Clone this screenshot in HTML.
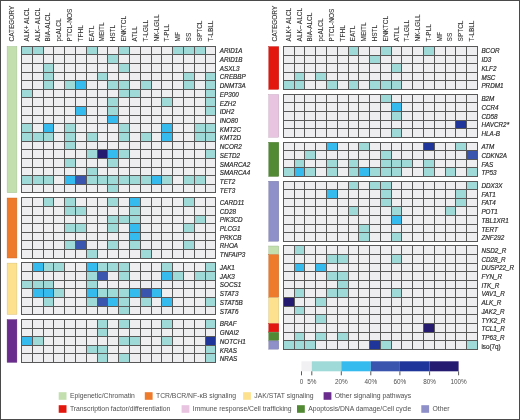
<!DOCTYPE html>
<html><head><meta charset="utf-8"><title>Mutation heatmap</title>
<style>
html,body{margin:0;padding:0;background:#fff;}
body{width:520px;height:420px;overflow:hidden;font-family:"Liberation Sans", sans-serif;}
svg{display:block;will-change:transform;}
text.g{stroke:#2a2a2a;stroke-width:0.18px;}
text.h{fill:#333;stroke:#333;stroke-width:0.1px;}
text.l{fill:#505050;}
</style></head><body>
<svg width="520" height="420" viewBox="0 0 520 420">
<g font-family='"Liberation Sans", sans-serif' font-size="6.8" fill="#2a2a2a">
<text transform="translate(14.40,41.4) rotate(-90) scale(0.95,1)" class="h" font-size="6.8">CATEGORY</text>
<text transform="translate(28.80,41.4) rotate(-90) scale(0.95,1)" class="h" font-size="6.8">ALK+ ALCL</text>
<text transform="translate(39.61,41.4) rotate(-90) scale(0.95,1)" class="h" font-size="6.8">ALK– ALCL</text>
<text transform="translate(50.42,41.4) rotate(-90) scale(0.95,1)" class="h" font-size="6.8">BIA-ALCL</text>
<text transform="translate(61.23,41.4) rotate(-90) scale(0.95,1)" class="h" font-size="6.8">pcALCL</text>
<text transform="translate(72.05,41.4) rotate(-90) scale(0.95,1)" class="h" font-size="6.8">PTCL-NOS</text>
<text transform="translate(82.86,41.4) rotate(-90) scale(0.95,1)" class="h" font-size="6.8">TFHL</text>
<text transform="translate(93.66,41.4) rotate(-90) scale(0.95,1)" class="h" font-size="6.8">EATL</text>
<text transform="translate(104.47,41.4) rotate(-90) scale(0.95,1)" class="h" font-size="6.8">MEITL</text>
<text transform="translate(115.28,41.4) rotate(-90) scale(0.95,1)" class="h" font-size="6.8">HSTL</text>
<text transform="translate(126.09,41.4) rotate(-90) scale(0.95,1)" class="h" font-size="6.8">ENKTCL</text>
<text transform="translate(136.91,41.4) rotate(-90) scale(0.95,1)" class="h" font-size="6.8">ATLL</text>
<text transform="translate(147.72,41.4) rotate(-90) scale(0.95,1)" class="h" font-size="6.8">T-LGLL</text>
<text transform="translate(158.53,41.4) rotate(-90) scale(0.95,1)" class="h" font-size="6.8">NK-LGLL</text>
<text transform="translate(169.34,41.4) rotate(-90) scale(0.95,1)" class="h" font-size="6.8">T-PLL</text>
<text transform="translate(180.15,41.4) rotate(-90) scale(0.95,1)" class="h" font-size="6.8">MF</text>
<text transform="translate(190.96,41.4) rotate(-90) scale(0.95,1)" class="h" font-size="6.8">SS</text>
<text transform="translate(201.77,41.4) rotate(-90) scale(0.95,1)" class="h" font-size="6.8">SPTCL</text>
<text transform="translate(212.58,41.4) rotate(-90) scale(0.95,1)" class="h" font-size="6.8">T-LBLL</text>
<text transform="translate(277.20,41.4) rotate(-90) scale(0.95,1)" class="h" font-size="6.8">CATEGORY</text>
<text transform="translate(290.79,41.4) rotate(-90) scale(0.95,1)" class="h" font-size="6.8">ALK+ ALCL</text>
<text transform="translate(301.57,41.4) rotate(-90) scale(0.95,1)" class="h" font-size="6.8">ALK– ALCL</text>
<text transform="translate(312.35,41.4) rotate(-90) scale(0.95,1)" class="h" font-size="6.8">BIA-ALCL</text>
<text transform="translate(323.13,41.4) rotate(-90) scale(0.95,1)" class="h" font-size="6.8">pcALCL</text>
<text transform="translate(333.91,41.4) rotate(-90) scale(0.95,1)" class="h" font-size="6.8">PTCL-NOS</text>
<text transform="translate(344.69,41.4) rotate(-90) scale(0.95,1)" class="h" font-size="6.8">TFHL</text>
<text transform="translate(355.47,41.4) rotate(-90) scale(0.95,1)" class="h" font-size="6.8">EATL</text>
<text transform="translate(366.25,41.4) rotate(-90) scale(0.95,1)" class="h" font-size="6.8">MEITL</text>
<text transform="translate(377.03,41.4) rotate(-90) scale(0.95,1)" class="h" font-size="6.8">HSTL</text>
<text transform="translate(387.81,41.4) rotate(-90) scale(0.95,1)" class="h" font-size="6.8">ENKTCL</text>
<text transform="translate(398.59,41.4) rotate(-90) scale(0.95,1)" class="h" font-size="6.8">ATLL</text>
<text transform="translate(409.37,41.4) rotate(-90) scale(0.95,1)" class="h" font-size="6.8">T-LGLL</text>
<text transform="translate(420.15,41.4) rotate(-90) scale(0.95,1)" class="h" font-size="6.8">NK-LGLL</text>
<text transform="translate(430.93,41.4) rotate(-90) scale(0.95,1)" class="h" font-size="6.8">T-PLL</text>
<text transform="translate(441.71,41.4) rotate(-90) scale(0.95,1)" class="h" font-size="6.8">MF</text>
<text transform="translate(452.49,41.4) rotate(-90) scale(0.95,1)" class="h" font-size="6.8">SS</text>
<text transform="translate(463.27,41.4) rotate(-90) scale(0.95,1)" class="h" font-size="6.8">SPTCL</text>
<text transform="translate(474.05,41.4) rotate(-90) scale(0.95,1)" class="h" font-size="6.8">T-LBLL</text>
<rect x="7.1" y="46.40" width="9.8" height="146.31" fill="#c2dfad" stroke="#9fb68d" stroke-width="0.4"/>
<rect x="7.1" y="198.00" width="9.8" height="60.01" fill="#ee7b2c" stroke="#c36424" stroke-width="0.4"/>
<rect x="7.1" y="263.10" width="9.8" height="51.38" fill="#fde18e" stroke="#cfb874" stroke-width="0.4"/>
<rect x="7.1" y="319.60" width="9.8" height="42.75" fill="#6a2c8d" stroke="#562473" stroke-width="0.4"/>
<rect x="21.40" y="46.20" width="194.58" height="146.71" fill="#eeeef0"/>
<rect x="21.40" y="46.20" width="10.81" height="8.63" fill="#9fd9d8"/>
<rect x="32.21" y="46.20" width="10.81" height="8.63" fill="#9fd9d8"/>
<rect x="86.26" y="46.20" width="10.81" height="8.63" fill="#9fd9d8"/>
<rect x="118.69" y="46.20" width="10.81" height="8.63" fill="#9fd9d8"/>
<rect x="172.74" y="46.20" width="10.81" height="8.63" fill="#9fd9d8"/>
<rect x="183.55" y="46.20" width="10.81" height="8.63" fill="#9fd9d8"/>
<rect x="194.36" y="46.20" width="10.81" height="8.63" fill="#9fd9d8"/>
<rect x="107.88" y="54.83" width="10.81" height="8.63" fill="#9fd9d8"/>
<rect x="43.02" y="63.46" width="10.81" height="8.63" fill="#9fd9d8"/>
<rect x="118.69" y="63.46" width="10.81" height="8.63" fill="#9fd9d8"/>
<rect x="43.02" y="72.09" width="10.81" height="8.63" fill="#9fd9d8"/>
<rect x="97.07" y="72.09" width="10.81" height="8.63" fill="#9fd9d8"/>
<rect x="183.55" y="72.09" width="10.81" height="8.63" fill="#9fd9d8"/>
<rect x="205.17" y="72.09" width="10.81" height="8.63" fill="#9fd9d8"/>
<rect x="43.02" y="80.72" width="10.81" height="8.63" fill="#9fd9d8"/>
<rect x="64.64" y="80.72" width="10.81" height="8.63" fill="#9fd9d8"/>
<rect x="75.45" y="80.72" width="10.81" height="8.63" fill="#35bbee"/>
<rect x="107.88" y="80.72" width="10.81" height="8.63" fill="#9fd9d8"/>
<rect x="118.69" y="80.72" width="10.81" height="8.63" fill="#9fd9d8"/>
<rect x="140.31" y="80.72" width="10.81" height="8.63" fill="#9fd9d8"/>
<rect x="183.55" y="80.72" width="10.81" height="8.63" fill="#9fd9d8"/>
<rect x="205.17" y="80.72" width="10.81" height="8.63" fill="#9fd9d8"/>
<rect x="21.40" y="89.35" width="10.81" height="8.63" fill="#9fd9d8"/>
<rect x="118.69" y="89.35" width="10.81" height="8.63" fill="#9fd9d8"/>
<rect x="129.50" y="89.35" width="10.81" height="8.63" fill="#9fd9d8"/>
<rect x="205.17" y="89.35" width="10.81" height="8.63" fill="#9fd9d8"/>
<rect x="107.88" y="97.98" width="10.81" height="8.63" fill="#9fd9d8"/>
<rect x="161.93" y="97.98" width="10.81" height="8.63" fill="#9fd9d8"/>
<rect x="205.17" y="97.98" width="10.81" height="8.63" fill="#9fd9d8"/>
<rect x="75.45" y="106.61" width="10.81" height="8.63" fill="#35bbee"/>
<rect x="107.88" y="106.61" width="10.81" height="8.63" fill="#9fd9d8"/>
<rect x="205.17" y="106.61" width="10.81" height="8.63" fill="#9fd9d8"/>
<rect x="107.88" y="115.24" width="10.81" height="8.63" fill="#35bbee"/>
<rect x="21.40" y="123.87" width="10.81" height="8.63" fill="#9fd9d8"/>
<rect x="43.02" y="123.87" width="10.81" height="8.63" fill="#35bbee"/>
<rect x="64.64" y="123.87" width="10.81" height="8.63" fill="#9fd9d8"/>
<rect x="118.69" y="123.87" width="10.81" height="8.63" fill="#9fd9d8"/>
<rect x="161.93" y="123.87" width="10.81" height="8.63" fill="#35bbee"/>
<rect x="194.36" y="123.87" width="10.81" height="8.63" fill="#9fd9d8"/>
<rect x="205.17" y="123.87" width="10.81" height="8.63" fill="#9fd9d8"/>
<rect x="21.40" y="132.50" width="10.81" height="8.63" fill="#9fd9d8"/>
<rect x="32.21" y="132.50" width="10.81" height="8.63" fill="#9fd9d8"/>
<rect x="43.02" y="132.50" width="10.81" height="8.63" fill="#9fd9d8"/>
<rect x="64.64" y="132.50" width="10.81" height="8.63" fill="#9fd9d8"/>
<rect x="86.26" y="132.50" width="10.81" height="8.63" fill="#9fd9d8"/>
<rect x="118.69" y="132.50" width="10.81" height="8.63" fill="#9fd9d8"/>
<rect x="140.31" y="132.50" width="10.81" height="8.63" fill="#9fd9d8"/>
<rect x="161.93" y="132.50" width="10.81" height="8.63" fill="#35bbee"/>
<rect x="194.36" y="132.50" width="10.81" height="8.63" fill="#9fd9d8"/>
<rect x="205.17" y="132.50" width="10.81" height="8.63" fill="#9fd9d8"/>
<rect x="64.64" y="141.13" width="10.81" height="8.63" fill="#9fd9d8"/>
<rect x="86.26" y="149.76" width="10.81" height="8.63" fill="#9fd9d8"/>
<rect x="97.07" y="149.76" width="10.81" height="8.63" fill="#241a70"/>
<rect x="107.88" y="149.76" width="10.81" height="8.63" fill="#35bbee"/>
<rect x="118.69" y="149.76" width="10.81" height="8.63" fill="#9fd9d8"/>
<rect x="205.17" y="149.76" width="10.81" height="8.63" fill="#9fd9d8"/>
<rect x="64.64" y="158.39" width="10.81" height="8.63" fill="#9fd9d8"/>
<rect x="107.88" y="158.39" width="10.81" height="8.63" fill="#9fd9d8"/>
<rect x="86.26" y="167.02" width="10.81" height="8.63" fill="#9fd9d8"/>
<rect x="21.40" y="175.65" width="10.81" height="8.63" fill="#9fd9d8"/>
<rect x="32.21" y="175.65" width="10.81" height="8.63" fill="#9fd9d8"/>
<rect x="43.02" y="175.65" width="10.81" height="8.63" fill="#9fd9d8"/>
<rect x="64.64" y="175.65" width="10.81" height="8.63" fill="#35bbee"/>
<rect x="75.45" y="175.65" width="10.81" height="8.63" fill="#3a55ae"/>
<rect x="86.26" y="175.65" width="10.81" height="8.63" fill="#9fd9d8"/>
<rect x="97.07" y="175.65" width="10.81" height="8.63" fill="#9fd9d8"/>
<rect x="107.88" y="175.65" width="10.81" height="8.63" fill="#9fd9d8"/>
<rect x="118.69" y="175.65" width="10.81" height="8.63" fill="#9fd9d8"/>
<rect x="129.50" y="175.65" width="10.81" height="8.63" fill="#9fd9d8"/>
<rect x="140.31" y="175.65" width="10.81" height="8.63" fill="#9fd9d8"/>
<rect x="151.12" y="175.65" width="10.81" height="8.63" fill="#35bbee"/>
<rect x="161.93" y="175.65" width="10.81" height="8.63" fill="#9fd9d8"/>
<rect x="183.55" y="175.65" width="10.81" height="8.63" fill="#9fd9d8"/>
<rect x="194.36" y="175.65" width="10.81" height="8.63" fill="#9fd9d8"/>
<rect x="107.88" y="184.28" width="10.81" height="8.63" fill="#9fd9d8"/>
<path d="M21.00 46.50H216.00M21.00 54.50H216.00M21.00 63.50H216.00M21.00 72.50H216.00M21.00 80.50H216.00M21.00 89.50H216.00M21.00 97.50H216.00M21.00 106.50H216.00M21.00 115.50H216.00M21.00 123.50H216.00M21.00 132.50H216.00M21.00 141.50H216.00M21.00 149.50H216.00M21.00 158.50H216.00M21.00 167.50H216.00M21.00 175.50H216.00M21.00 184.50H216.00M21.00 192.50H216.00M21.50 46.50V192.50M32.50 46.50V192.50M43.50 46.50V192.50M53.50 46.50V192.50M64.50 46.50V192.50M75.50 46.50V192.50M86.50 46.50V192.50M97.50 46.50V192.50M107.50 46.50V192.50M118.50 46.50V192.50M129.50 46.50V192.50M140.50 46.50V192.50M151.50 46.50V192.50M161.50 46.50V192.50M172.50 46.50V192.50M183.50 46.50V192.50M194.50 46.50V192.50M205.50 46.50V192.50M215.50 46.50V192.50" stroke="#585858" stroke-width="1" fill="none"/>
<text class="g" transform="translate(219.8,53.21) scale(0.93,1)" style="font-style:italic">ARID1A</text>
<text class="g" transform="translate(219.8,61.93) scale(0.93,1)" style="font-style:italic">ARID1B</text>
<text class="g" transform="translate(219.8,70.66) scale(0.93,1)" style="font-style:italic">ASXL3</text>
<text class="g" transform="translate(219.8,79.38) scale(0.93,1)" style="font-style:italic">CREBBP</text>
<text class="g" transform="translate(219.8,88.10) scale(0.93,1)" style="font-style:italic">DNMT3A</text>
<text class="g" transform="translate(219.8,96.82) scale(0.93,1)" style="font-style:italic">EP300</text>
<text class="g" transform="translate(219.8,105.54) scale(0.93,1)" style="font-style:italic">EZH2</text>
<text class="g" transform="translate(219.8,114.26) scale(0.93,1)" style="font-style:italic">IDH2</text>
<text class="g" transform="translate(219.8,122.98) scale(0.93,1)" style="font-style:italic">INO80</text>
<text class="g" transform="translate(219.8,131.70) scale(0.93,1)" style="font-style:italic">KMT2C</text>
<text class="g" transform="translate(219.8,140.42) scale(0.93,1)" style="font-style:italic">KMT2D</text>
<text class="g" transform="translate(219.8,149.14) scale(0.93,1)" style="font-style:italic">NCOR2</text>
<text class="g" transform="translate(219.8,157.86) scale(0.93,1)" style="font-style:italic">SETD2</text>
<text class="g" transform="translate(219.8,166.58) scale(0.93,1)" style="font-style:italic">SMARCA2</text>
<text class="g" transform="translate(219.8,175.30) scale(0.93,1)" style="font-style:italic">SMARCA4</text>
<text class="g" transform="translate(219.8,184.02) scale(0.93,1)" style="font-style:italic">TET2</text>
<text class="g" transform="translate(219.8,192.74) scale(0.93,1)" style="font-style:italic">TET3</text>
<rect x="21.40" y="197.80" width="194.58" height="60.41" fill="#eeeef0"/>
<rect x="43.02" y="197.80" width="10.81" height="8.63" fill="#9fd9d8"/>
<rect x="64.64" y="197.80" width="10.81" height="8.63" fill="#9fd9d8"/>
<rect x="107.88" y="197.80" width="10.81" height="8.63" fill="#9fd9d8"/>
<rect x="129.50" y="197.80" width="10.81" height="8.63" fill="#35bbee"/>
<rect x="183.55" y="197.80" width="10.81" height="8.63" fill="#9fd9d8"/>
<rect x="64.64" y="206.43" width="10.81" height="8.63" fill="#9fd9d8"/>
<rect x="75.45" y="206.43" width="10.81" height="8.63" fill="#9fd9d8"/>
<rect x="129.50" y="206.43" width="10.81" height="8.63" fill="#9fd9d8"/>
<rect x="107.88" y="215.06" width="10.81" height="8.63" fill="#9fd9d8"/>
<rect x="118.69" y="215.06" width="10.81" height="8.63" fill="#9fd9d8"/>
<rect x="129.50" y="215.06" width="10.81" height="8.63" fill="#9fd9d8"/>
<rect x="194.36" y="215.06" width="10.81" height="8.63" fill="#9fd9d8"/>
<rect x="64.64" y="223.69" width="10.81" height="8.63" fill="#9fd9d8"/>
<rect x="75.45" y="223.69" width="10.81" height="8.63" fill="#9fd9d8"/>
<rect x="107.88" y="223.69" width="10.81" height="8.63" fill="#9fd9d8"/>
<rect x="129.50" y="223.69" width="10.81" height="8.63" fill="#35bbee"/>
<rect x="183.55" y="223.69" width="10.81" height="8.63" fill="#9fd9d8"/>
<rect x="129.50" y="232.32" width="10.81" height="8.63" fill="#35bbee"/>
<rect x="64.64" y="240.95" width="10.81" height="8.63" fill="#9fd9d8"/>
<rect x="75.45" y="240.95" width="10.81" height="8.63" fill="#3a55ae"/>
<rect x="107.88" y="240.95" width="10.81" height="8.63" fill="#9fd9d8"/>
<rect x="129.50" y="240.95" width="10.81" height="8.63" fill="#9fd9d8"/>
<rect x="183.55" y="240.95" width="10.81" height="8.63" fill="#9fd9d8"/>
<rect x="86.26" y="249.58" width="10.81" height="8.63" fill="#9fd9d8"/>
<rect x="140.31" y="249.58" width="10.81" height="8.63" fill="#9fd9d8"/>
<path d="M21.00 197.50H216.00M21.00 206.50H216.00M21.00 215.50H216.00M21.00 223.50H216.00M21.00 232.50H216.00M21.00 240.50H216.00M21.00 249.50H216.00M21.00 258.50H216.00M21.50 197.50V258.50M32.50 197.50V258.50M43.50 197.50V258.50M53.50 197.50V258.50M64.50 197.50V258.50M75.50 197.50V258.50M86.50 197.50V258.50M97.50 197.50V258.50M107.50 197.50V258.50M118.50 197.50V258.50M129.50 197.50V258.50M140.50 197.50V258.50M151.50 197.50V258.50M161.50 197.50V258.50M172.50 197.50V258.50M183.50 197.50V258.50M194.50 197.50V258.50M205.50 197.50V258.50M215.50 197.50V258.50" stroke="#585858" stroke-width="1" fill="none"/>
<text class="g" transform="translate(219.8,204.82) scale(0.93,1)" style="font-style:italic">CARD11</text>
<text class="g" transform="translate(219.8,213.54) scale(0.93,1)" style="font-style:italic">CD28</text>
<text class="g" transform="translate(219.8,222.26) scale(0.93,1)" style="font-style:italic">PIK3CD</text>
<text class="g" transform="translate(219.8,230.98) scale(0.93,1)" style="font-style:italic">PLCG1</text>
<text class="g" transform="translate(219.8,239.70) scale(0.93,1)" style="font-style:italic">PRKCB</text>
<text class="g" transform="translate(219.8,248.42) scale(0.93,1)" style="font-style:italic">RHOA</text>
<text class="g" transform="translate(219.8,257.13) scale(0.93,1)" style="font-style:italic">TNFAIP3</text>
<rect x="21.40" y="262.90" width="194.58" height="51.78" fill="#eeeef0"/>
<rect x="32.21" y="262.90" width="10.81" height="8.63" fill="#35bbee"/>
<rect x="43.02" y="262.90" width="10.81" height="8.63" fill="#9fd9d8"/>
<rect x="53.83" y="262.90" width="10.81" height="8.63" fill="#9fd9d8"/>
<rect x="86.26" y="262.90" width="10.81" height="8.63" fill="#35bbee"/>
<rect x="97.07" y="262.90" width="10.81" height="8.63" fill="#9fd9d8"/>
<rect x="107.88" y="262.90" width="10.81" height="8.63" fill="#9fd9d8"/>
<rect x="118.69" y="262.90" width="10.81" height="8.63" fill="#9fd9d8"/>
<rect x="161.93" y="262.90" width="10.81" height="8.63" fill="#9fd9d8"/>
<rect x="205.17" y="262.90" width="10.81" height="8.63" fill="#9fd9d8"/>
<rect x="86.26" y="271.53" width="10.81" height="8.63" fill="#9fd9d8"/>
<rect x="97.07" y="271.53" width="10.81" height="8.63" fill="#3a55ae"/>
<rect x="118.69" y="271.53" width="10.81" height="8.63" fill="#9fd9d8"/>
<rect x="161.93" y="271.53" width="10.81" height="8.63" fill="#35bbee"/>
<rect x="172.74" y="271.53" width="10.81" height="8.63" fill="#9fd9d8"/>
<rect x="194.36" y="271.53" width="10.81" height="8.63" fill="#9fd9d8"/>
<rect x="205.17" y="271.53" width="10.81" height="8.63" fill="#9fd9d8"/>
<rect x="21.40" y="280.16" width="10.81" height="8.63" fill="#9fd9d8"/>
<rect x="32.21" y="280.16" width="10.81" height="8.63" fill="#9fd9d8"/>
<rect x="43.02" y="280.16" width="10.81" height="8.63" fill="#9fd9d8"/>
<rect x="86.26" y="280.16" width="10.81" height="8.63" fill="#9fd9d8"/>
<rect x="32.21" y="288.79" width="10.81" height="8.63" fill="#35bbee"/>
<rect x="43.02" y="288.79" width="10.81" height="8.63" fill="#35bbee"/>
<rect x="53.83" y="288.79" width="10.81" height="8.63" fill="#9fd9d8"/>
<rect x="86.26" y="288.79" width="10.81" height="8.63" fill="#35bbee"/>
<rect x="97.07" y="288.79" width="10.81" height="8.63" fill="#9fd9d8"/>
<rect x="107.88" y="288.79" width="10.81" height="8.63" fill="#9fd9d8"/>
<rect x="118.69" y="288.79" width="10.81" height="8.63" fill="#9fd9d8"/>
<rect x="129.50" y="288.79" width="10.81" height="8.63" fill="#35bbee"/>
<rect x="140.31" y="288.79" width="10.81" height="8.63" fill="#3a55ae"/>
<rect x="151.12" y="288.79" width="10.81" height="8.63" fill="#35bbee"/>
<rect x="43.02" y="297.42" width="10.81" height="8.63" fill="#9fd9d8"/>
<rect x="86.26" y="297.42" width="10.81" height="8.63" fill="#9fd9d8"/>
<rect x="97.07" y="297.42" width="10.81" height="8.63" fill="#3a55ae"/>
<rect x="107.88" y="297.42" width="10.81" height="8.63" fill="#35bbee"/>
<rect x="118.69" y="297.42" width="10.81" height="8.63" fill="#9fd9d8"/>
<rect x="140.31" y="297.42" width="10.81" height="8.63" fill="#9fd9d8"/>
<rect x="161.93" y="297.42" width="10.81" height="8.63" fill="#35bbee"/>
<rect x="205.17" y="297.42" width="10.81" height="8.63" fill="#9fd9d8"/>
<rect x="118.69" y="306.05" width="10.81" height="8.63" fill="#9fd9d8"/>
<path d="M21.00 262.50H216.00M21.00 271.50H216.00M21.00 280.50H216.00M21.00 288.50H216.00M21.00 297.50H216.00M21.00 306.50H216.00M21.00 314.50H216.00M21.50 262.50V314.50M32.50 262.50V314.50M43.50 262.50V314.50M53.50 262.50V314.50M64.50 262.50V314.50M75.50 262.50V314.50M86.50 262.50V314.50M97.50 262.50V314.50M107.50 262.50V314.50M118.50 262.50V314.50M129.50 262.50V314.50M140.50 262.50V314.50M151.50 262.50V314.50M161.50 262.50V314.50M172.50 262.50V314.50M183.50 262.50V314.50M194.50 262.50V314.50M205.50 262.50V314.50M215.50 262.50V314.50" stroke="#585858" stroke-width="1" fill="none"/>
<text class="g" transform="translate(219.8,269.91) scale(0.93,1)" style="font-style:italic">JAK1</text>
<text class="g" transform="translate(219.8,278.63) scale(0.93,1)" style="font-style:italic">JAK3</text>
<text class="g" transform="translate(219.8,287.35) scale(0.93,1)" style="font-style:italic">SOCS1</text>
<text class="g" transform="translate(219.8,296.07) scale(0.93,1)" style="font-style:italic">STAT3</text>
<text class="g" transform="translate(219.8,304.79) scale(0.93,1)" style="font-style:italic">STAT5B</text>
<text class="g" transform="translate(219.8,313.51) scale(0.93,1)" style="font-style:italic">STAT6</text>
<rect x="21.40" y="319.40" width="194.58" height="43.15" fill="#eeeef0"/>
<rect x="97.07" y="319.40" width="10.81" height="8.63" fill="#9fd9d8"/>
<rect x="118.69" y="319.40" width="10.81" height="8.63" fill="#9fd9d8"/>
<rect x="161.93" y="319.40" width="10.81" height="8.63" fill="#9fd9d8"/>
<rect x="205.17" y="319.40" width="10.81" height="8.63" fill="#9fd9d8"/>
<rect x="97.07" y="328.03" width="10.81" height="8.63" fill="#9fd9d8"/>
<rect x="21.40" y="336.66" width="10.81" height="8.63" fill="#35bbee"/>
<rect x="32.21" y="336.66" width="10.81" height="8.63" fill="#9fd9d8"/>
<rect x="118.69" y="336.66" width="10.81" height="8.63" fill="#9fd9d8"/>
<rect x="129.50" y="336.66" width="10.81" height="8.63" fill="#9fd9d8"/>
<rect x="161.93" y="336.66" width="10.81" height="8.63" fill="#9fd9d8"/>
<rect x="205.17" y="336.66" width="10.81" height="8.63" fill="#1f359a"/>
<rect x="86.26" y="345.29" width="10.81" height="8.63" fill="#9fd9d8"/>
<rect x="97.07" y="345.29" width="10.81" height="8.63" fill="#9fd9d8"/>
<rect x="205.17" y="345.29" width="10.81" height="8.63" fill="#9fd9d8"/>
<rect x="97.07" y="353.92" width="10.81" height="8.63" fill="#9fd9d8"/>
<rect x="118.69" y="353.92" width="10.81" height="8.63" fill="#9fd9d8"/>
<rect x="205.17" y="353.92" width="10.81" height="8.63" fill="#9fd9d8"/>
<path d="M21.00 319.50H216.00M21.00 328.50H216.00M21.00 336.50H216.00M21.00 345.50H216.00M21.00 353.50H216.00M21.00 362.50H216.00M21.50 319.50V362.50M32.50 319.50V362.50M43.50 319.50V362.50M53.50 319.50V362.50M64.50 319.50V362.50M75.50 319.50V362.50M86.50 319.50V362.50M97.50 319.50V362.50M107.50 319.50V362.50M118.50 319.50V362.50M129.50 319.50V362.50M140.50 319.50V362.50M151.50 319.50V362.50M161.50 319.50V362.50M172.50 319.50V362.50M183.50 319.50V362.50M194.50 319.50V362.50M205.50 319.50V362.50M215.50 319.50V362.50" stroke="#585858" stroke-width="1" fill="none"/>
<text class="g" transform="translate(219.8,326.41) scale(0.93,1)" style="font-style:italic">BRAF</text>
<text class="g" transform="translate(219.8,335.13) scale(0.93,1)" style="font-style:italic">GNAI2</text>
<text class="g" transform="translate(219.8,343.85) scale(0.93,1)" style="font-style:italic">NOTCH1</text>
<text class="g" transform="translate(219.8,352.57) scale(0.93,1)" style="font-style:italic">KRAS</text>
<text class="g" transform="translate(219.8,361.29) scale(0.93,1)" style="font-style:italic">NRAS</text>
<rect x="268.8" y="46.60" width="10.0" height="42.75" fill="#e4170f" stroke="#ba120c" stroke-width="0.4"/>
<rect x="268.8" y="94.50" width="10.0" height="42.75" fill="#e8c4e1" stroke="#bea0b8" stroke-width="0.4"/>
<rect x="268.8" y="142.30" width="10.0" height="34.12" fill="#528a33" stroke="#437129" stroke-width="0.4"/>
<rect x="268.8" y="181.20" width="10.0" height="60.01" fill="#8f8fc9" stroke="#7575a4" stroke-width="0.4"/>
<rect x="268.8" y="246.00" width="10.0" height="8.23" fill="#c2dfad" stroke="#9fb68d" stroke-width="0.4"/>
<rect x="268.8" y="254.63" width="10.0" height="42.75" fill="#ee7b2c" stroke="#c36424" stroke-width="0.4"/>
<rect x="268.8" y="297.78" width="10.0" height="25.49" fill="#fde18e" stroke="#cfb874" stroke-width="0.4"/>
<rect x="268.8" y="323.67" width="10.0" height="8.23" fill="#e4170f" stroke="#ba120c" stroke-width="0.4"/>
<rect x="268.8" y="332.30" width="10.0" height="8.23" fill="#528a33" stroke="#437129" stroke-width="0.4"/>
<rect x="268.8" y="340.93" width="10.0" height="8.23" fill="#8f8fc9" stroke="#7575a4" stroke-width="0.4"/>
<rect x="283.40" y="46.40" width="194.04" height="43.15" fill="#eeeef0"/>
<rect x="348.08" y="46.40" width="10.78" height="8.63" fill="#9fd9d8"/>
<rect x="380.42" y="46.40" width="10.78" height="8.63" fill="#9fd9d8"/>
<rect x="423.54" y="46.40" width="10.78" height="8.63" fill="#9fd9d8"/>
<rect x="369.64" y="55.03" width="10.78" height="8.63" fill="#9fd9d8"/>
<rect x="391.20" y="63.66" width="10.78" height="8.63" fill="#9fd9d8"/>
<rect x="294.18" y="72.29" width="10.78" height="8.63" fill="#9fd9d8"/>
<rect x="315.74" y="72.29" width="10.78" height="8.63" fill="#9fd9d8"/>
<rect x="283.40" y="80.92" width="10.78" height="8.63" fill="#9fd9d8"/>
<rect x="294.18" y="80.92" width="10.78" height="8.63" fill="#9fd9d8"/>
<rect x="326.52" y="80.92" width="10.78" height="8.63" fill="#9fd9d8"/>
<rect x="348.08" y="80.92" width="10.78" height="8.63" fill="#9fd9d8"/>
<rect x="369.64" y="80.92" width="10.78" height="8.63" fill="#9fd9d8"/>
<rect x="380.42" y="80.92" width="10.78" height="8.63" fill="#9fd9d8"/>
<rect x="391.20" y="80.92" width="10.78" height="8.63" fill="#9fd9d8"/>
<path d="M283.00 46.50H478.00M283.00 55.50H478.00M283.00 63.50H478.00M283.00 72.50H478.00M283.00 80.50H478.00M283.00 89.50H478.00M283.50 46.50V89.50M294.50 46.50V89.50M304.50 46.50V89.50M315.50 46.50V89.50M326.50 46.50V89.50M337.50 46.50V89.50M348.50 46.50V89.50M358.50 46.50V89.50M369.50 46.50V89.50M380.50 46.50V89.50M391.50 46.50V89.50M401.50 46.50V89.50M412.50 46.50V89.50M423.50 46.50V89.50M434.50 46.50V89.50M445.50 46.50V89.50M455.50 46.50V89.50M466.50 46.50V89.50M477.50 46.50V89.50" stroke="#585858" stroke-width="1" fill="none"/>
<text class="g" transform="translate(481.4,53.41) scale(0.93,1)" style="font-style:italic">BCOR</text>
<text class="g" transform="translate(481.4,62.13) scale(0.93,1)" style="font-style:italic">ID3</text>
<text class="g" transform="translate(481.4,70.86) scale(0.93,1)" style="font-style:italic">KLF2</text>
<text class="g" transform="translate(481.4,79.58) scale(0.93,1)" style="font-style:italic">MSC</text>
<text class="g" transform="translate(481.4,88.30) scale(0.93,1)" style="font-style:italic">PRDM1</text>
<rect x="283.40" y="94.30" width="194.04" height="43.15" fill="#eeeef0"/>
<rect x="380.42" y="94.30" width="10.78" height="8.63" fill="#9fd9d8"/>
<rect x="391.20" y="102.93" width="10.78" height="8.63" fill="#35bbee"/>
<rect x="391.20" y="111.56" width="10.78" height="8.63" fill="#9fd9d8"/>
<rect x="455.88" y="120.19" width="10.78" height="8.63" fill="#1f359a"/>
<rect x="391.20" y="128.82" width="10.78" height="8.63" fill="#9fd9d8"/>
<path d="M283.00 94.50H478.00M283.00 102.50H478.00M283.00 111.50H478.00M283.00 120.50H478.00M283.00 128.50H478.00M283.00 137.50H478.00M283.50 94.50V137.50M294.50 94.50V137.50M304.50 94.50V137.50M315.50 94.50V137.50M326.50 94.50V137.50M337.50 94.50V137.50M348.50 94.50V137.50M358.50 94.50V137.50M369.50 94.50V137.50M380.50 94.50V137.50M391.50 94.50V137.50M401.50 94.50V137.50M412.50 94.50V137.50M423.50 94.50V137.50M434.50 94.50V137.50M445.50 94.50V137.50M455.50 94.50V137.50M466.50 94.50V137.50M477.50 94.50V137.50" stroke="#585858" stroke-width="1" fill="none"/>
<text class="g" transform="translate(481.4,101.31) scale(0.93,1)" style="font-style:italic">B2M</text>
<text class="g" transform="translate(481.4,110.03) scale(0.93,1)" style="font-style:italic">CCR4</text>
<text class="g" transform="translate(481.4,118.75) scale(0.93,1)" style="font-style:italic">CD58</text>
<text class="g" transform="translate(481.4,127.48) scale(0.93,1)" style="font-style:italic">HAVCR2*</text>
<text class="g" transform="translate(481.4,136.20) scale(0.93,1)" style="font-style:italic">HLA-B</text>
<rect x="283.40" y="142.10" width="194.04" height="34.52" fill="#eeeef0"/>
<rect x="326.52" y="142.10" width="10.78" height="8.63" fill="#35bbee"/>
<rect x="358.86" y="142.10" width="10.78" height="8.63" fill="#9fd9d8"/>
<rect x="423.54" y="142.10" width="10.78" height="8.63" fill="#1f359a"/>
<rect x="455.88" y="142.10" width="10.78" height="8.63" fill="#9fd9d8"/>
<rect x="304.96" y="150.73" width="10.78" height="8.63" fill="#9fd9d8"/>
<rect x="380.42" y="150.73" width="10.78" height="8.63" fill="#9fd9d8"/>
<rect x="466.66" y="150.73" width="10.78" height="8.63" fill="#3a55ae"/>
<rect x="294.18" y="159.36" width="10.78" height="8.63" fill="#9fd9d8"/>
<rect x="326.52" y="159.36" width="10.78" height="8.63" fill="#9fd9d8"/>
<rect x="348.08" y="159.36" width="10.78" height="8.63" fill="#9fd9d8"/>
<rect x="380.42" y="159.36" width="10.78" height="8.63" fill="#9fd9d8"/>
<rect x="391.20" y="159.36" width="10.78" height="8.63" fill="#9fd9d8"/>
<rect x="401.98" y="159.36" width="10.78" height="8.63" fill="#9fd9d8"/>
<rect x="423.54" y="159.36" width="10.78" height="8.63" fill="#9fd9d8"/>
<rect x="283.40" y="167.99" width="10.78" height="8.63" fill="#9fd9d8"/>
<rect x="294.18" y="167.99" width="10.78" height="8.63" fill="#35bbee"/>
<rect x="304.96" y="167.99" width="10.78" height="8.63" fill="#9fd9d8"/>
<rect x="326.52" y="167.99" width="10.78" height="8.63" fill="#9fd9d8"/>
<rect x="348.08" y="167.99" width="10.78" height="8.63" fill="#9fd9d8"/>
<rect x="358.86" y="167.99" width="10.78" height="8.63" fill="#35bbee"/>
<rect x="369.64" y="167.99" width="10.78" height="8.63" fill="#9fd9d8"/>
<rect x="380.42" y="167.99" width="10.78" height="8.63" fill="#9fd9d8"/>
<rect x="391.20" y="167.99" width="10.78" height="8.63" fill="#9fd9d8"/>
<rect x="423.54" y="167.99" width="10.78" height="8.63" fill="#9fd9d8"/>
<rect x="445.10" y="167.99" width="10.78" height="8.63" fill="#9fd9d8"/>
<rect x="466.66" y="167.99" width="10.78" height="8.63" fill="#9fd9d8"/>
<path d="M283.00 142.50H478.00M283.00 150.50H478.00M283.00 159.50H478.00M283.00 167.50H478.00M283.00 176.50H478.00M283.50 142.50V176.50M294.50 142.50V176.50M304.50 142.50V176.50M315.50 142.50V176.50M326.50 142.50V176.50M337.50 142.50V176.50M348.50 142.50V176.50M358.50 142.50V176.50M369.50 142.50V176.50M380.50 142.50V176.50M391.50 142.50V176.50M401.50 142.50V176.50M412.50 142.50V176.50M423.50 142.50V176.50M434.50 142.50V176.50M445.50 142.50V176.50M455.50 142.50V176.50M466.50 142.50V176.50M477.50 142.50V176.50" stroke="#585858" stroke-width="1" fill="none"/>
<text class="g" transform="translate(481.4,149.12) scale(0.93,1)" style="font-style:italic">ATM</text>
<text class="g" transform="translate(481.4,157.84) scale(0.93,1)" style="font-style:italic">CDKN2A</text>
<text class="g" transform="translate(481.4,166.56) scale(0.93,1)" style="font-style:italic">FAS</text>
<text class="g" transform="translate(481.4,175.28) scale(0.93,1)" style="font-style:italic">TP53</text>
<rect x="283.40" y="181.00" width="194.04" height="60.41" fill="#eeeef0"/>
<rect x="348.08" y="181.00" width="10.78" height="8.63" fill="#9fd9d8"/>
<rect x="369.64" y="181.00" width="10.78" height="8.63" fill="#9fd9d8"/>
<rect x="380.42" y="181.00" width="10.78" height="8.63" fill="#9fd9d8"/>
<rect x="466.66" y="181.00" width="10.78" height="8.63" fill="#9fd9d8"/>
<rect x="326.52" y="189.63" width="10.78" height="8.63" fill="#35bbee"/>
<rect x="380.42" y="189.63" width="10.78" height="8.63" fill="#9fd9d8"/>
<rect x="455.88" y="189.63" width="10.78" height="8.63" fill="#9fd9d8"/>
<rect x="380.42" y="198.26" width="10.78" height="8.63" fill="#9fd9d8"/>
<rect x="455.88" y="198.26" width="10.78" height="8.63" fill="#9fd9d8"/>
<rect x="348.08" y="206.89" width="10.78" height="8.63" fill="#9fd9d8"/>
<rect x="391.20" y="206.89" width="10.78" height="8.63" fill="#9fd9d8"/>
<rect x="445.10" y="206.89" width="10.78" height="8.63" fill="#9fd9d8"/>
<rect x="391.20" y="215.52" width="10.78" height="8.63" fill="#35bbee"/>
<rect x="358.86" y="224.15" width="10.78" height="8.63" fill="#9fd9d8"/>
<rect x="358.86" y="232.78" width="10.78" height="8.63" fill="#9fd9d8"/>
<rect x="391.20" y="232.78" width="10.78" height="8.63" fill="#9fd9d8"/>
<path d="M283.00 181.50H478.00M283.00 189.50H478.00M283.00 198.50H478.00M283.00 206.50H478.00M283.00 215.50H478.00M283.00 224.50H478.00M283.00 232.50H478.00M283.00 241.50H478.00M283.50 181.50V241.50M294.50 181.50V241.50M304.50 181.50V241.50M315.50 181.50V241.50M326.50 181.50V241.50M337.50 181.50V241.50M348.50 181.50V241.50M358.50 181.50V241.50M369.50 181.50V241.50M380.50 181.50V241.50M391.50 181.50V241.50M401.50 181.50V241.50M412.50 181.50V241.50M423.50 181.50V241.50M434.50 181.50V241.50M445.50 181.50V241.50M455.50 181.50V241.50M466.50 181.50V241.50M477.50 181.50V241.50" stroke="#585858" stroke-width="1" fill="none"/>
<text class="g" transform="translate(481.4,188.02) scale(0.93,1)" style="font-style:italic">DDX3X</text>
<text class="g" transform="translate(481.4,196.74) scale(0.93,1)" style="font-style:italic">FAT1</text>
<text class="g" transform="translate(481.4,205.46) scale(0.93,1)" style="font-style:italic">FAT4</text>
<text class="g" transform="translate(481.4,214.18) scale(0.93,1)" style="font-style:italic">POT1</text>
<text class="g" transform="translate(481.4,222.90) scale(0.93,1)" style="font-style:italic">TBL1XR1</text>
<text class="g" transform="translate(481.4,231.62) scale(0.93,1)" style="font-style:italic">TERT</text>
<text class="g" transform="translate(481.4,240.34) scale(0.93,1)" style="font-style:italic">ZNF292</text>
<rect x="283.40" y="245.80" width="194.04" height="103.56" fill="#eeeef0"/>
<rect x="294.18" y="245.80" width="10.78" height="8.63" fill="#9fd9d8"/>
<rect x="326.52" y="254.43" width="10.78" height="8.63" fill="#9fd9d8"/>
<rect x="337.30" y="254.43" width="10.78" height="8.63" fill="#9fd9d8"/>
<rect x="391.20" y="254.43" width="10.78" height="8.63" fill="#9fd9d8"/>
<rect x="294.18" y="263.06" width="10.78" height="8.63" fill="#35bbee"/>
<rect x="315.74" y="263.06" width="10.78" height="8.63" fill="#35bbee"/>
<rect x="326.52" y="271.69" width="10.78" height="8.63" fill="#9fd9d8"/>
<rect x="337.30" y="271.69" width="10.78" height="8.63" fill="#9fd9d8"/>
<rect x="337.30" y="280.32" width="10.78" height="8.63" fill="#9fd9d8"/>
<rect x="294.18" y="288.95" width="10.78" height="8.63" fill="#9fd9d8"/>
<rect x="326.52" y="288.95" width="10.78" height="8.63" fill="#9fd9d8"/>
<rect x="337.30" y="288.95" width="10.78" height="8.63" fill="#9fd9d8"/>
<rect x="391.20" y="288.95" width="10.78" height="8.63" fill="#9fd9d8"/>
<rect x="283.40" y="297.58" width="10.78" height="8.63" fill="#241a70"/>
<rect x="315.74" y="297.58" width="10.78" height="8.63" fill="#9fd9d8"/>
<rect x="294.18" y="306.21" width="10.78" height="8.63" fill="#9fd9d8"/>
<rect x="315.74" y="314.84" width="10.78" height="8.63" fill="#9fd9d8"/>
<rect x="423.54" y="323.47" width="10.78" height="8.63" fill="#241a70"/>
<rect x="294.18" y="332.10" width="10.78" height="8.63" fill="#9fd9d8"/>
<rect x="315.74" y="332.10" width="10.78" height="8.63" fill="#9fd9d8"/>
<rect x="337.30" y="332.10" width="10.78" height="8.63" fill="#9fd9d8"/>
<rect x="283.40" y="340.73" width="10.78" height="8.63" fill="#9fd9d8"/>
<rect x="294.18" y="340.73" width="10.78" height="8.63" fill="#9fd9d8"/>
<rect x="304.96" y="340.73" width="10.78" height="8.63" fill="#9fd9d8"/>
<rect x="369.64" y="340.73" width="10.78" height="8.63" fill="#1f359a"/>
<rect x="380.42" y="340.73" width="10.78" height="8.63" fill="#9fd9d8"/>
<rect x="466.66" y="340.73" width="10.78" height="8.63" fill="#9fd9d8"/>
<path d="M283.00 245.50H478.00M283.00 254.50H478.00M283.00 263.50H478.00M283.00 271.50H478.00M283.00 280.50H478.00M283.00 288.50H478.00M283.00 297.50H478.00M283.00 306.50H478.00M283.00 314.50H478.00M283.00 323.50H478.00M283.00 332.50H478.00M283.00 340.50H478.00M283.00 349.50H478.00M283.50 245.50V349.50M294.50 245.50V349.50M304.50 245.50V349.50M315.50 245.50V349.50M326.50 245.50V349.50M337.50 245.50V349.50M348.50 245.50V349.50M358.50 245.50V349.50M369.50 245.50V349.50M380.50 245.50V349.50M391.50 245.50V349.50M401.50 245.50V349.50M412.50 245.50V349.50M423.50 245.50V349.50M434.50 245.50V349.50M445.50 245.50V349.50M455.50 245.50V349.50M466.50 245.50V349.50M477.50 245.50V349.50" stroke="#585858" stroke-width="1" fill="none"/>
<text class="g" transform="translate(481.4,252.82) scale(0.93,1)" style="font-style:italic">NSD2_R</text>
<text class="g" transform="translate(481.4,261.54) scale(0.93,1)" style="font-style:italic">CD28_R</text>
<text class="g" transform="translate(481.4,270.25) scale(0.93,1)" style="font-style:italic">DUSP22_R</text>
<text class="g" transform="translate(481.4,278.98) scale(0.93,1)" style="font-style:italic">FYN_R</text>
<text class="g" transform="translate(481.4,287.69) scale(0.93,1)" style="font-style:italic">ITK_R</text>
<text class="g" transform="translate(481.4,296.42) scale(0.93,1)" style="font-style:italic">VAV1_R</text>
<text class="g" transform="translate(481.4,305.13) scale(0.93,1)" style="font-style:italic">ALK_R</text>
<text class="g" transform="translate(481.4,313.86) scale(0.93,1)" style="font-style:italic">JAK2_R</text>
<text class="g" transform="translate(481.4,322.57) scale(0.93,1)" style="font-style:italic">TYK2_R</text>
<text class="g" transform="translate(481.4,331.30) scale(0.93,1)" style="font-style:italic">TCL1_R</text>
<text class="g" transform="translate(481.4,340.01) scale(0.93,1)" style="font-style:italic">TP63_R</text>
<text class="g" transform="translate(481.4,348.74) scale(0.93,1)" style="font-style:normal">iso(7q)</text>
<rect x="301.5" y="361.3" width="10.30" height="10.0" fill="#f1f0f2"/>
<rect x="311.8" y="361.3" width="29.50" height="10.0" fill="#9fd9d8"/>
<rect x="341.3" y="361.3" width="29.50" height="10.0" fill="#35bbee"/>
<rect x="370.8" y="361.3" width="29.10" height="10.0" fill="#3a55ae"/>
<rect x="399.9" y="361.3" width="29.70" height="10.0" fill="#1f359a"/>
<rect x="429.6" y="361.3" width="29.00" height="10.0" fill="#241a70"/>
<line x1="301.5" y1="371.3" x2="301.5" y2="375.3" stroke="#585858" stroke-width="1"/>
<text class="l" x="301.5" y="384.2" text-anchor="middle" font-size="6.4">0</text>
<line x1="311.8" y1="371.3" x2="311.8" y2="375.3" stroke="#585858" stroke-width="1"/>
<text class="l" x="311.8" y="384.2" text-anchor="middle" font-size="6.4">5%</text>
<line x1="341.3" y1="371.3" x2="341.3" y2="375.3" stroke="#585858" stroke-width="1"/>
<text class="l" x="341.3" y="384.2" text-anchor="middle" font-size="6.4">20%</text>
<line x1="370.8" y1="371.3" x2="370.8" y2="375.3" stroke="#585858" stroke-width="1"/>
<text class="l" x="370.8" y="384.2" text-anchor="middle" font-size="6.4">40%</text>
<line x1="399.9" y1="371.3" x2="399.9" y2="375.3" stroke="#585858" stroke-width="1"/>
<text class="l" x="399.9" y="384.2" text-anchor="middle" font-size="6.4">60%</text>
<line x1="429.6" y1="371.3" x2="429.6" y2="375.3" stroke="#585858" stroke-width="1"/>
<text class="l" x="429.6" y="384.2" text-anchor="middle" font-size="6.4">80%</text>
<line x1="458.6" y1="371.3" x2="458.6" y2="375.3" stroke="#585858" stroke-width="1"/>
<text class="l" x="458.6" y="384.2" text-anchor="middle" font-size="6.4">100%</text>
<rect x="58.7" y="392.2" width="7.8" height="7.6" fill="#c2dfad"/>
<text class="l" x="69.90" y="398.00" font-size="6.8">Epigenetic/Chromatin</text>
<rect x="144.8" y="392.2" width="7.8" height="7.6" fill="#ee7b2c"/>
<text class="l" x="156.00" y="398.00" font-size="6.8">TCR/BCR/NF-κB signaling</text>
<rect x="243.1" y="392.2" width="7.8" height="7.6" fill="#fde18e"/>
<text class="l" x="254.30" y="398.00" font-size="6.8">JAK/STAT signaling</text>
<rect x="323.6" y="392.2" width="7.8" height="7.6" fill="#6a2c8d"/>
<text class="l" x="334.80" y="398.00" font-size="6.8">Other signaling pathways</text>
<rect x="58.7" y="405.2" width="7.8" height="7.6" fill="#e4170f"/>
<text class="l" x="69.90" y="411.00" font-size="6.8">Transcription factor/differentiation</text>
<rect x="181.6" y="405.2" width="7.8" height="7.6" fill="#e8c4e1"/>
<text class="l" x="192.80" y="411.00" font-size="6.8">Immune response/Cell trafficking</text>
<rect x="297.0" y="405.2" width="7.8" height="7.6" fill="#528a33"/>
<text class="l" x="308.20" y="411.00" font-size="6.8">Apoptosis/DNA damage/Cell cycle</text>
<rect x="421.3" y="405.2" width="7.8" height="7.6" fill="#8f8fc9"/>
<text class="l" x="432.50" y="411.00" font-size="6.8">Other</text>
</g>
<rect x="0.5" y="0.5" width="519" height="419" fill="none" stroke="#4a4a4a" stroke-width="1"/>
</svg>
</body></html>
